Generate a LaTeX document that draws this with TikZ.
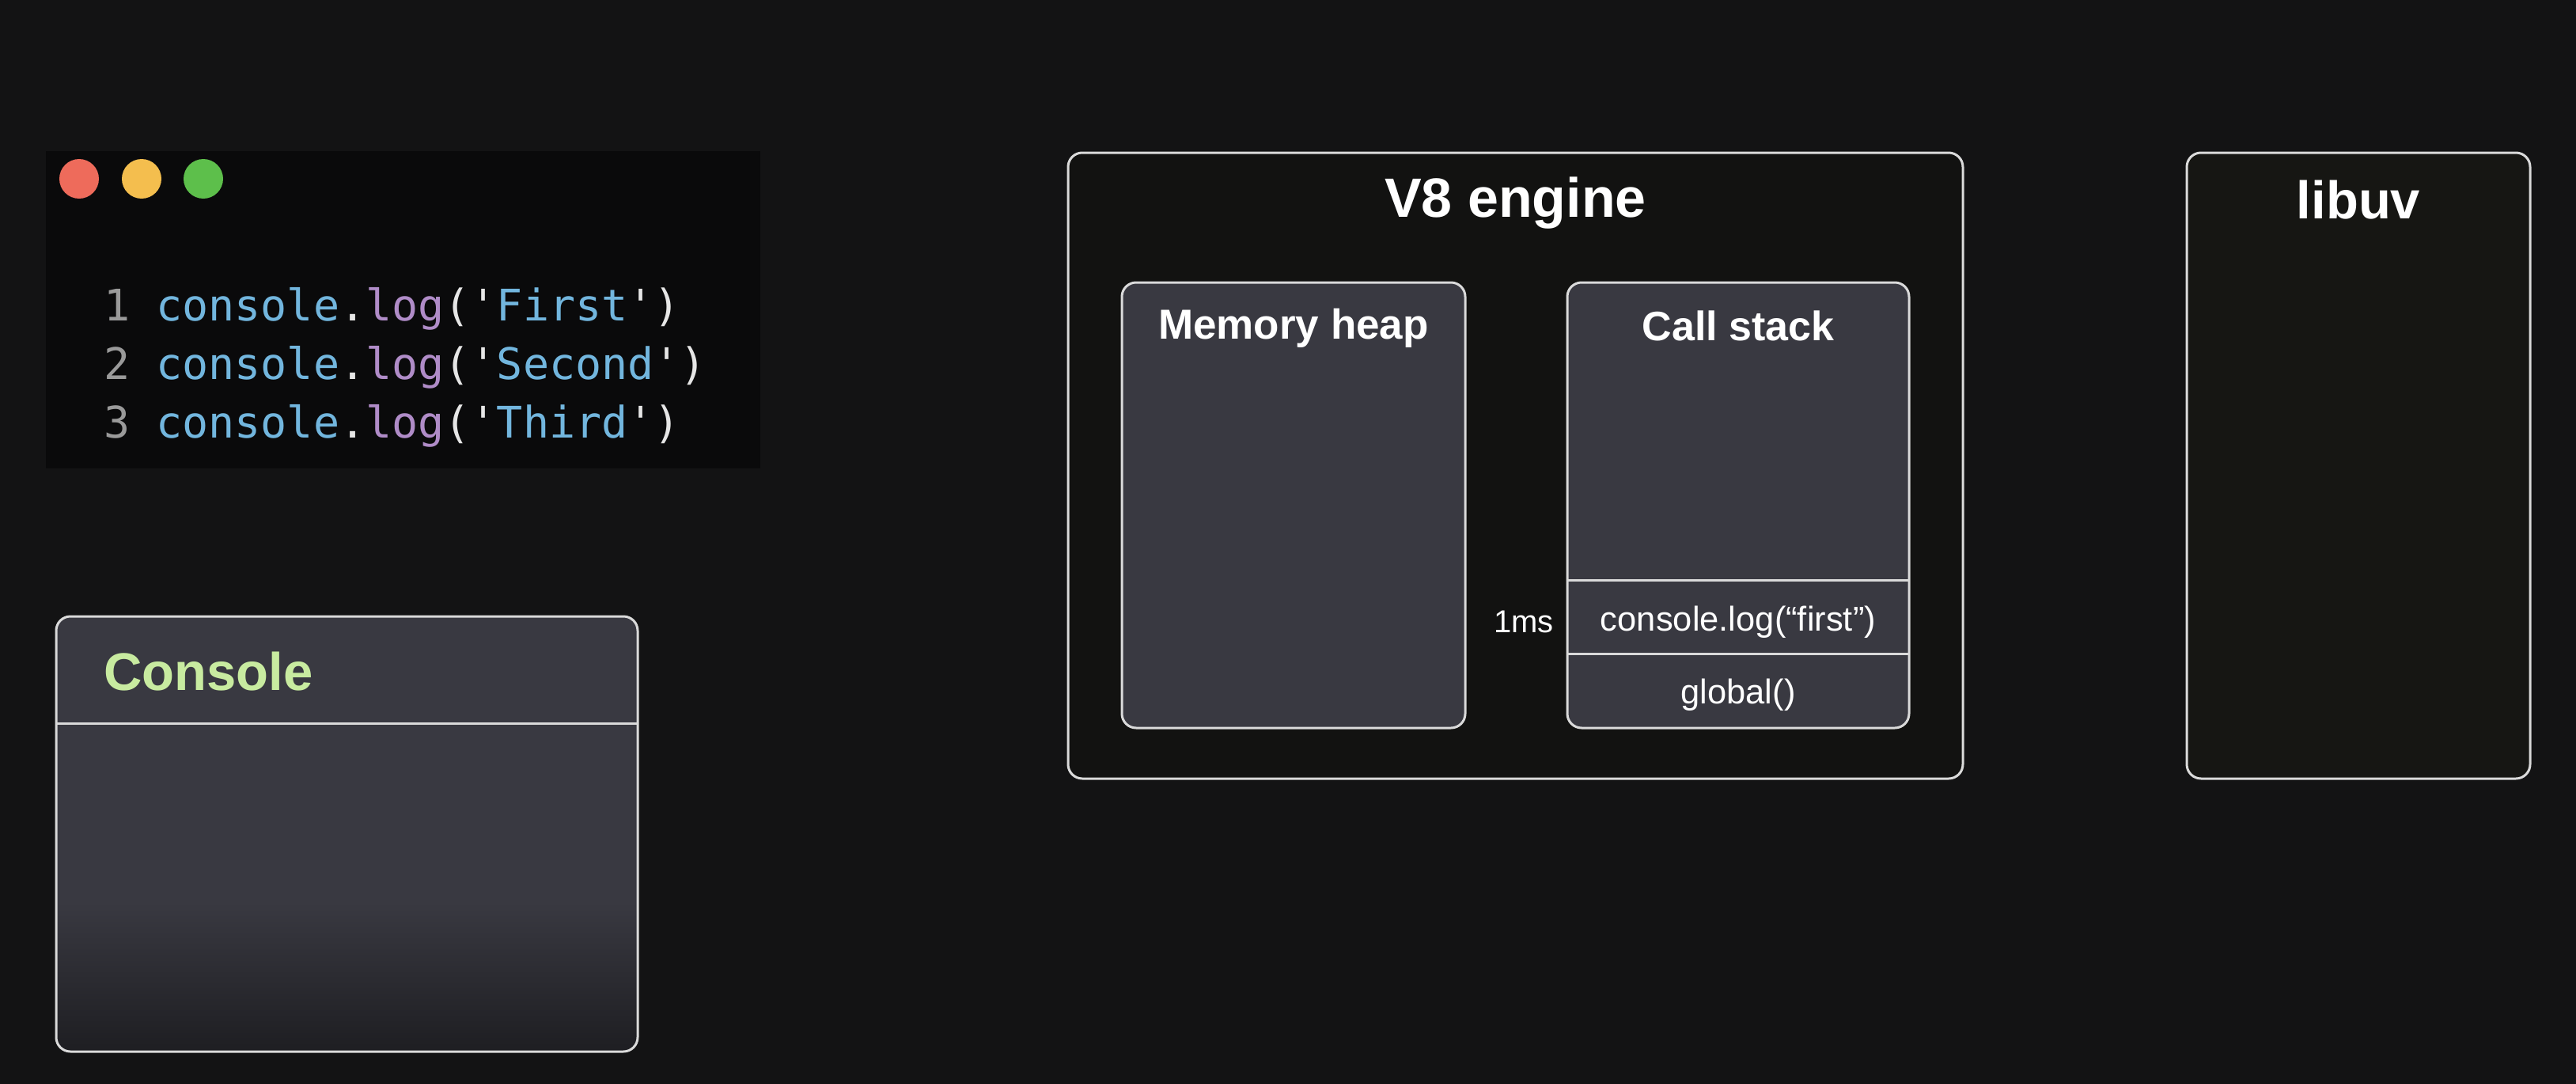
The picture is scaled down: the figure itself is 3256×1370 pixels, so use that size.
\documentclass[tikz,border=0pt]{standalone}
\usepackage{fontspec}
\setmainfont{Liberation Sans}
\newfontfamily\codefont{DejaVu Sans Mono}
\definecolor{bgc}{HTML}{131314}
\definecolor{panelc}{HTML}{0A0A0B}
\definecolor{outerc}{HTML}{121211}
\definecolor{libc}{HTML}{161613}
\definecolor{innerc}{HTML}{393941}
\definecolor{darkbot}{HTML}{1E1E22}
\definecolor{borderc}{HTML}{DADADA}
\definecolor{consgreen}{HTML}{C8EBA0}
\definecolor{numgray}{HTML}{9A9A9A}
\definecolor{cblue}{HTML}{72B6DE}
\definecolor{cpurple}{HTML}{B08CC8}
\definecolor{cwhite}{HTML}{E6E6E6}
\definecolor{dotred}{HTML}{EE6B5B}
\definecolor{dotyellow}{HTML}{F4BE4E}
\definecolor{dotgreen}{HTML}{5DBF4B}
\begin{document}
\begin{tikzpicture}[x=1pt,y=-1pt,
  box/.style={draw=borderc, line width=3pt, rounded corners=18pt, anchor=north west, inner sep=0pt, outer sep=0pt},
  bigtitle/.style={text=white, font=\fontsize{67}{80}\selectfont\bfseries, inner sep=0pt},
  midtitle/.style={text=white, font=\fontsize{52}{62}\selectfont\bfseries, inner sep=0pt},
  celltext/.style={text=white, font=\fontsize{43.5}{52}\selectfont, inner sep=0pt},
  codeline/.style={font=\codefont\fontsize{55}{66}\selectfont, inner sep=0pt, anchor=west},
  dot/.style={circle, inner sep=0pt, minimum size=50pt}
]
\useasboundingbox[fill=bgc] (0,0) rectangle (3256,1370);

% code panel
\node[fill=panelc, inner sep=0pt, minimum width=903pt, minimum height=401pt, anchor=north west] (panel) at (58,191) {};
\node[dot, fill=dotred] (d1) at (100,226) {};
\node[dot, fill=dotyellow] (d2) at (179,226) {};
\node[dot, fill=dotgreen] (d3) at (257,226) {};
\node[codeline] (l1) at (131,390) {\textcolor{numgray}{1} \textcolor{cblue}{console}\textcolor{cwhite}{.}\textcolor{cpurple}{log}\textcolor{cwhite}{(\textquotesingle}\textcolor{cblue}{First}\textcolor{cwhite}{\textquotesingle)}};
\node[codeline] (l2) at (131,464) {\textcolor{numgray}{2} \textcolor{cblue}{console}\textcolor{cwhite}{.}\textcolor{cpurple}{log}\textcolor{cwhite}{(\textquotesingle}\textcolor{cblue}{Second}\textcolor{cwhite}{\textquotesingle)}};
\node[codeline] (l3) at (131,538) {\textcolor{numgray}{3} \textcolor{cblue}{console}\textcolor{cwhite}{.}\textcolor{cpurple}{log}\textcolor{cwhite}{(\textquotesingle}\textcolor{cblue}{Third}\textcolor{cwhite}{\textquotesingle)}};

% console
\node[box, draw=none, fill=innerc, minimum width=735pt, minimum height=550pt] (console) at (71,779) {};
\begin{scope}
  \clip[rounded corners=18pt] (console.north west) rectangle (console.south east);
  \shade[top color=innerc, bottom color=darkbot] (console.west |- 0,1140) rectangle (console.south east);
\end{scope}
\draw[draw=borderc, line width=3pt, rounded corners=18pt] (console.north west) rectangle (console.south east);
\draw[draw=borderc, line width=3pt] (console.west |- 0,914) coordinate (cl) -- (console.east |- 0,914) coordinate (cr);
\node[text=consgreen, font=\fontsize{67}{80}\selectfont\bfseries, inner sep=0pt, anchor=west] (constitle) at (131,849) {Console};

% V8 engine
\node[box, fill=outerc, minimum width=1131pt, minimum height=791pt] (v8) at (1350,193) {};
\node[bigtitle, font=\fontsize{70}{84}\selectfont\bfseries] (v8t) at ([yshift=-64pt]v8.north) {V8 engine};

\node[box, fill=innerc, minimum width=434pt, minimum height=563pt] (mh) at (1418,357) {};
\node[midtitle, font=\fontsize{53}{64}\selectfont\bfseries] (mht) at ([yshift=-58pt]mh.north) {Memory heap};

\node[box, fill=innerc, minimum width=432pt, minimum height=563pt] (cs) at (1981,357) {};
\node[midtitle] (cst) at ([yshift=-55pt]cs.north) {Call stack};
\draw[draw=borderc, line width=3pt] (cs.west |- 0,733) -- (cs.east |- 0,733);
\draw[draw=borderc, line width=3pt] (cs.west |- 0,826) -- (cs.east |- 0,826);
\node[celltext] (c1) at (cs.center |- 0,786) {console.log(“first”)};
\node[celltext] (c2) at (cs.center |- 0,878) {global()};
\node[celltext, font=\fontsize{40}{48}\selectfont, anchor=east] (ms) at (1964,786) {1ms};

% libuv
\node[box, fill=libc, minimum width=434pt, minimum height=791pt] (uv) at (2764,193) {};
\node[bigtitle] (uvt) at ([yshift=-60pt]uv.north) {libuv};
\end{tikzpicture}
\end{document}
